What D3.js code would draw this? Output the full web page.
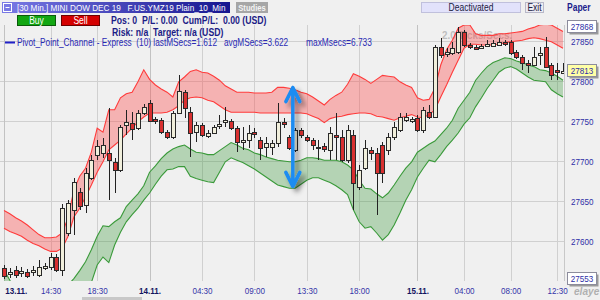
<!DOCTYPE html>
<html><head><meta charset="utf-8">
<script src="https://cdn.jsdelivr.net/npm/d3@7"></script>
<style>
html,body{margin:0;padding:0;background:#f0f0f0;overflow:hidden;}
svg{display:block;font-family:"Liberation Sans",Arial,sans-serif;}
</style></head><body>
<svg id="c" width="600" height="300"></svg>
<script>
// ---- data (30-min bars, MINI DOW DEC 19) ----
const open = [27566,27559,27564,27560,27561,27561,27558,27566,27568,27580,
27563,27610,27639,27661,27645,27679,27708,27710,27710,27699,
27689,27745,27748,27741,27760,27773,27753,27751,27736,27730,
27761,27786,27761,27736,27745,27731,27736,27743,27748,27750,
27741,27723,27726,27736,27726,27718,27718,27723,27749,27730,
27714,27739,27730,27726,27718,27719,27714,27733,27730,27701,
27733,27668,27691,27714,27710,27720,27714,27730,27739,27751,
27751,27754,27739,27761,27755,27843,27833,27835,27836,27861,
27845,27843,27841,27844,27844,27845,27849,27849,27836,27830,
27823,27820,27833,27843,27820,27814,27811];
const high = [27570,27566,27569,27568,27565,27569,27576,27573,27585,27584,
27646,27651,27679,27666,27691,27708,27726,27729,27766,27704,
27745,27764,27761,27764,27771,27776,27755,27754,27739,27763,
27808,27789,27768,27749,27748,27739,27745,27758,27768,27753,
27744,27743,27745,27741,27730,27730,27726,27773,27754,27733,
27741,27741,27733,27729,27726,27723,27743,27760,27739,27745,
27739,27695,27726,27718,27716,27724,27735,27749,27760,27760,
27755,27758,27768,27770,27845,27854,27841,27849,27868,27864,
27848,27845,27846,27851,27851,27854,27851,27851,27839,27833,
27826,27843,27843,27855,27823,27823,27823];
const low = [27553,27554,27554,27555,27554,27556,27555,27564,27564,27561,
27556,27606,27608,27639,27635,27676,27701,27704,27651,27660,
27686,27733,27726,27739,27758,27749,27746,27734,27728,27728,
27759,27754,27705,27724,27730,27729,27734,27740,27743,27739,
27711,27714,27716,27729,27701,27705,27708,27718,27741,27714,
27711,27729,27724,27714,27701,27711,27701,27701,27699,27698,
27639,27664,27689,27701,27633,27673,27708,27726,27736,27749,
27748,27736,27735,27753,27754,27829,27830,27833,27834,27843,
27840,27839,27840,27843,27843,27844,27844,27833,27828,27814,
27810,27819,27820,27816,27801,27801,27809];
const close = [27556,27561,27558,27563,27556,27564,27568,27569,27580,27564,
27641,27648,27674,27643,27685,27701,27719,27720,27701,27689,
27743,27749,27741,27760,27768,27751,27750,27736,27730,27760,
27788,27766,27735,27745,27733,27735,27743,27746,27751,27741,
27723,27726,27735,27734,27716,27723,27723,27749,27746,27716,
27739,27733,27726,27720,27717,27715,27735,27730,27701,27739,
27673,27689,27716,27710,27685,27685,27730,27743,27755,27755,
27753,27739,27764,27755,27843,27833,27836,27841,27861,27845,
27843,27841,27844,27846,27848,27849,27846,27835,27830,27823,
27820,27830,27835,27818,27808,27811,27813];
// Pivot_Point_Channel: upper (red) channel and lower (green) channel
const upperTop = [27638,27634,27629,27625,27620,27614,27608,27604,27604,27605,
27610,27629,27664,27681,27691,27711,27741,27736,27764,27764,
27779,27784,27786,27799,27814,27802,27795,27790,27786,27780,
27799,27805,27812,27814,27811,27810,27806,27801,27794,27790,
27786,27786,27786,27785,27785,27785,27786,27792,27792,27791,
27789,27786,27784,27780,27775,27770,27777,27782,27786,27796,
27809,27806,27802,27797,27802,27807,27806,27805,27799,27795,
27792,27779,27776,27777,27791,27820,27839,27851,27866,27870,
27870,27859,27857,27857,27857,27859,27859,27860,27861,27862,
27865,27867,27870,27871,27870,27866,27862];
const upperBottom = [27616,27612,27609,27606,27601,27597,27594,27590,27587,27587,
27591,27606,27630,27641,27655,27670,27686,27699,27714,27720,
27726,27734,27741,27749,27755,27760,27760,27760,27761,27764,
27769,27776,27779,27780,27779,27776,27774,27769,27764,27761,
27761,27761,27761,27761,27760,27760,27760,27760,27760,27760,
27760,27760,27759,27756,27753,27748,27753,27755,27756,27758,
27759,27760,27760,27759,27756,27755,27753,27751,27754,27756,
27758,27755,27754,27758,27764,27780,27795,27811,27826,27841,
27846,27846,27845,27845,27845,27846,27848,27849,27850,27851,
27853,27854,27853,27851,27849,27845,27841];
const lowerTop = [27564,27551,27539,27531,27526,27523,27520,27520,27523,27529,
27536,27545,27553,27563,27574,27589,27606,27619,27618,27624,
27629,27643,27651,27659,27669,27686,27694,27703,27710,27715,
27718,27720,27715,27711,27710,27708,27708,27713,27718,27723,
27720,27716,27714,27710,27708,27705,27703,27701,27700,27699,
27699,27701,27704,27704,27703,27701,27701,27701,27699,27695,
27689,27676,27666,27665,27659,27654,27660,27670,27681,27691,
27699,27711,27716,27721,27725,27733,27741,27751,27766,27776,
27786,27801,27810,27818,27823,27826,27829,27828,27825,27823,
27820,27818,27814,27813,27810,27806,27801];
const lowerBottom = [27526,27520,27514,27508,27504,27501,27499,27499,27500,27504,
27509,27515,27523,27530,27539,27548,27570,27580,27573,27595,
27611,27624,27633,27641,27651,27660,27671,27681,27689,27690,
27693,27693,27681,27678,27676,27674,27673,27686,27699,27704,
27701,27698,27694,27690,27685,27680,27675,27670,27668,27666,
27666,27671,27676,27679,27679,27676,27673,27669,27664,27658,
27639,27624,27616,27618,27610,27601,27608,27620,27635,27651,
27664,27680,27691,27701,27699,27708,27718,27726,27735,27746,
27754,27768,27779,27791,27801,27811,27816,27818,27815,27810,
27805,27801,27800,27799,27789,27784,27780];
const tickBars = [0,8,16,25,34,43,52,61,71,79,87,95];
const tickLabels = ["13.11.","14:30","18:30","14.11.","04:30","09:00","13:30","18:00","15.11.","04:00","08:00","12:30"];
const dayLabels = ["13.11.","14.11.","15.11."];
const priceTicks = [27850,27800,27750,27700,27650,27600];
const rangeHigh = 27868, lastClose = 27813, rangeLow = 27553;
const arrowBar = 49.6, arrowTopPrice = 27793, arrowBottomPrice = 27667;

// ---- layout ----
const svg = d3.select("#c");
const P = {left:0, right:564, top:25, bottom:281};
const x = d3.scaleLinear().domain([0, close.length - 1]).range([4, 563]);
const y = d3.scaleLinear().domain([27600, 27850]).range([241, 41]);
const idx = d3.range(close.length);
const px = i => Math.round(x(i));
const SX = 0.85, FS = 9.5;

const defs = svg.append("defs");
defs.append("clipPath").attr("id","clip").append("rect")
  .attr("x",P.left).attr("y",P.top).attr("width",P.right-P.left).attr("height",P.bottom-P.top);
const g1 = defs.append("linearGradient").attr("id","tb");
g1.append("stop").attr("offset","0%").attr("stop-color","#7a7ae6");
g1.append("stop").attr("offset","100%").attr("stop-color","#15158f");
const sh = defs.append("filter").attr("id","sh").attr("x","-50%").attr("y","-20%").attr("width","200%").attr("height","140%");
sh.append("feDropShadow").attr("dx",4).attr("dy",4).attr("stdDeviation",2.5).attr("flood-color","#000").attr("flood-opacity",0.45);

svg.append("rect").attr("width",600).attr("height",300).attr("fill","#f0f0f0");

// helper for compact (narrow) text
function ntext(parent, tx, ty, str, o = {}) {
  const t = parent.append("text")
    .attr("transform", `translate(${tx},${ty}) scale(${o.sx || SX},1)`)
    .attr("font-size", o.size || FS)
    .attr("fill", o.fill || "#000")
    .attr("text-anchor", o.anchor || "start")
    .attr("xml:space","preserve")
    .text(str);
  if (o.bold) t.attr("font-weight","bold");
  if (o.italic) t.attr("font-style","italic");
  if (o.opacity) t.attr("fill-opacity", o.opacity);
  return t;
}

// grid
const grid = svg.append("g").attr("shape-rendering","crispEdges");
grid.selectAll(".hg").data(priceTicks).join("line")
  .attr("x1",P.left).attr("x2",P.right).attr("y1",d=>Math.round(y(d))+0.5).attr("y2",d=>Math.round(y(d))+0.5)
  .attr("stroke","#d0d0d0").attr("stroke-width",1.5);
grid.selectAll(".vg").data(tickBars).join("line")
  .attr("x1",d=>px(d)+0.5).attr("x2",d=>px(d)+0.5).attr("y1",P.top).attr("y2",P.bottom)
  .attr("stroke",(d,i)=>dayLabels.includes(tickLabels[i]) ? "#c2c2c2" : "#d0d0d0").attr("stroke-width",1.5);
grid.append("line").attr("x1",P.right+0.5).attr("x2",P.right+0.5).attr("y1",P.top).attr("y2",P.bottom)
  .attr("stroke","#c8c8c8");

// watermark
ntext(svg, 442, 38.5, "2.0 Ticks/Secs.", {size:11.5, bold:true, fill:"#b4b4b4", opacity:0.85, sx:0.86});

const plot = svg.append("g").attr("clip-path","url(#clip)");

function band(top, bot, fill, stroke){
  const area = d3.area().x(i=>x(i)).y0(i=>y(bot[i])).y1(i=>y(top[i]));
  const l1 = d3.line().x(i=>x(i)).y(i=>y(top[i]));
  const l2 = d3.line().x(i=>x(i)).y(i=>y(bot[i]));
  plot.append("path").attr("d",area(idx)).attr("fill",fill);
  plot.append("path").attr("d",l1(idx)).attr("fill","none").attr("stroke",stroke).attr("stroke-width",1.1);
  plot.append("path").attr("d",l2(idx)).attr("fill","none").attr("stroke",stroke).attr("stroke-width",1.1);
}
band(upperTop, upperBottom, "rgba(255,70,70,0.36)", "#ff3b3b");
band(lowerTop, lowerBottom, "rgba(50,150,50,0.31)", "#3a9a3a");

// candles
const cg = plot.append("g").attr("shape-rendering","crispEdges");
cg.selectAll(".w").data(idx).join("line")
  .attr("x1",i=>px(i)+0.5).attr("x2",i=>px(i)+0.5)
  .attr("y1",i=>y(high[i])).attr("y2",i=>y(low[i]))
  .attr("stroke","#222").attr("stroke-width",1);
cg.selectAll(".b").data(idx).join("rect")
  .attr("x",i=>px(i)-1.5).attr("width",4)
  .attr("y",i=>Math.round(y(Math.max(open[i],close[i])))+0.5)
  .attr("height",i=>Math.max(1,Math.round(Math.abs(y(open[i])-y(close[i])))))
  .attr("fill",i=>close[i]>=open[i] ? "#f1efdc" : "#d83030")
  .attr("stroke","#2a2a2a").attr("stroke-width",1);

// blue double arrow annotation
const ax = x(arrowBar), ay0 = y(arrowTopPrice), ay1 = y(arrowBottomPrice);
svg.append("path")
  .attr("d",`M${ax},${ay0+1}L${ax},${ay1-1}M${ax-7},${ay0+15}L${ax},${ay0+1}L${ax+7},${ay0+15}M${ax-7},${ay1-15}L${ax},${ay1-1}L${ax+7},${ay1-15}`)
  .attr("fill","none").attr("stroke","#1c8cf2").attr("stroke-width",3.5)
  .attr("stroke-linejoin","round").attr("stroke-linecap","round").attr("filter","url(#sh)");

// axes
const yAxis = svg.append("g").attr("transform",`translate(${P.right},0)`)
  .call(d3.axisRight(y).tickValues(priceTicks).tickSize(0).tickPadding(7).tickFormat(d3.format("d")));
yAxis.select(".domain").remove();
yAxis.selectAll("text").attr("font-size",FS).attr("fill","#2e2ea6").attr("font-family",null)
  .attr("transform",`scale(${SX},1)`).attr("x",7/SX);

const xAxis = svg.append("g").attr("transform",`translate(0,${P.bottom+1})`)
  .call(d3.axisBottom(x).tickValues(tickBars).tickSize(0).tickPadding(5).tickFormat((d,i)=>tickLabels[i]));
xAxis.select(".domain").remove();
xAxis.selectAll("text").attr("font-size",FS).attr("font-family",null)
  .attr("transform",`scale(${SX},1)`)
  .attr("fill",(d,i)=>dayLabels.includes(tickLabels[i]) ? "#14145e" : "#3434a8")
  .attr("font-weight",(d,i)=>dayLabels.includes(tickLabels[i]) ? "bold" : "normal")
  .attr("text-anchor",(d,i)=>i===0 ? "start" : "middle")
  .attr("dx",(d,i)=>i===0 ? 1 : 0);
svg.append("rect").attr("x",82).attr("y",297).attr("width",60).attr("height",3).attr("fill","#c8c8c8");
ntext(svg, 574, 295, "elaye", {size:11, italic:true, bold:true, fill:"#b0b0b0", sx:0.92});

// price boxes
function priceBox(v, fill){
  const cy = y(v);
  const g = svg.append("g");
  g.append("rect").attr("x",569.5).attr("y",Math.round(cy-6)+1.5).attr("width",29).attr("height",12).attr("fill","#9a9a9a");
  g.append("rect").attr("x",567.5).attr("y",Math.round(cy-6)-0.5).attr("width",29).attr("height",12)
    .attr("fill",fill).attr("stroke","#8c8c9c").attr("shape-rendering","crispEdges");
  ntext(g, 582, cy+3.5, d3.format("d")(v), {anchor:"middle", fill:"#2e2ea6"});
}
priceBox(rangeHigh, "#ffffff");
priceBox(lastClose, "#ffffa6");
priceBox(rangeLow, "#ffffff");

// header
const hd = svg.append("g");
hd.append("rect").attr("x",2).attr("y",2).attr("width",228).attr("height",11).attr("fill","url(#tb)");
hd.append("rect").attr("x",3.5).attr("y",3.5).attr("width",8).attr("height",8).attr("fill","none").attr("stroke","#fff");
hd.append("line").attr("x1",5.5).attr("x2",9.5).attr("y1",7.5).attr("y2",7.5).attr("stroke","#fff");
ntext(hd, 17, 11, "[30 Min.] MINI DOW DEC 19   F.US.YMZ19 Plain_10_Min", {fill:"#fff", sx:0.86});
hd.append("rect").attr("x",236).attr("y",2).attr("width",32).attr("height",11).attr("fill","#a6a6a6");
ntext(hd, 252, 11, "Studies", {anchor:"middle", bold:true, fill:"#f4f4f4", sx:0.8});
hd.append("rect").attr("x",17.5).attr("y",15.5).attr("width",38).attr("height",10).attr("fill","#12a612").attr("stroke","#0a5a0a");
ntext(hd, 36.5, 24, "Buy", {anchor:"middle", fill:"#fff", size:10});
hd.append("rect").attr("x",61.5).attr("y",15.5).attr("width",38).attr("height",10).attr("fill","#d40000").attr("stroke","#6a0000");
ntext(hd, 80.5, 24, "Sell", {anchor:"middle", fill:"#fff", size:10});
ntext(hd, 111, 24, "Pos: 0  P/L: 0.00  CumP/L:  0.00 (USD)", {bold:true, fill:"#1c1c86", size:10, sx:0.87});
ntext(hd, 112, 36, "Risk: n/a  Target: n/a (USD)", {bold:true, fill:"#1c1c86", size:10, sx:0.87});
hd.append("line").attr("x1",5).attr("x2",15).attr("y1",42.5).attr("y2",42.5).attr("stroke","#2020c8").attr("stroke-width",2);
ntext(hd, 17, 46, "Pivot_Point_Channel - Express  (10) lastMSecs=1.612   avgMSecs=3.622", {fill:"#2a2ab4", size:10, sx:0.83});
ntext(hd, 306, 46, "maxMsecs=6.733", {fill:"#2a2ab4", size:10, sx:0.84});
hd.append("rect").attr("x",421.5).attr("y",2.5).attr("width",99).attr("height",10).attr("fill","#e2e2fb").attr("stroke","#c0c0dc");
ntext(hd, 471, 11, "Deactivated", {anchor:"middle", fill:"#202040", size:10});
hd.append("rect").attr("x",525.5).attr("y",2.5).attr("width",18).attr("height",10).attr("fill","#ececf4").attr("stroke","#b8b8c8");
ntext(hd, 534.5, 11, "Exit", {anchor:"middle", fill:"#202040", size:10});
ntext(hd, 567, 11, "Paper", {bold:true, fill:"#1c1c8c", size:10, sx:0.85});
</script>
</body></html>
